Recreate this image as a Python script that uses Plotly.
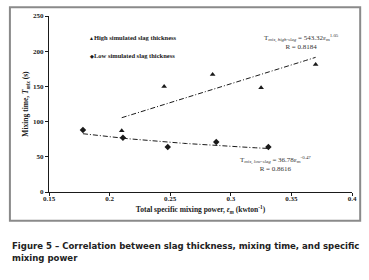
import numpy as np
import plotly.graph_objects as go

# Data
high_x = [0.21, 0.245, 0.285, 0.325, 0.37]
high_y = [87, 150, 167, 148, 181]
low_x = [0.178, 0.211, 0.248, 0.288, 0.331]
low_y = [88, 77, 64, 71, 64]

# Power-law fits printed on the chart: T = a * e^b
high_a, high_b = 543.32, 1.05
low_a, low_b = 36.78, -0.47

x_ticks = [0.15, 0.2, 0.25, 0.3, 0.35, 0.4]
x_tick_labels = ["0.15", "0.2", "0.25", "0.3", "0.35", "0.4"]
y_ticks = [0, 50, 100, 150, 200, 250]

SERIF = "Liberation Serif, Times New Roman, serif"
INK = "#1a1a1a"

fig = go.Figure()

hx = np.linspace(min(high_x), max(high_x), 60)
lx = np.linspace(min(low_x), max(low_x), 60)
fig.add_trace(go.Scatter(x=hx, y=high_a * hx ** high_b, mode="lines",
                         line=dict(color=INK, width=1, dash="5px,2px,1px,2px"),
                         showlegend=False, hoverinfo="skip"))
fig.add_trace(go.Scatter(x=lx, y=low_a * lx ** low_b, mode="lines",
                         line=dict(color=INK, width=1, dash="5px,2px,1px,2px"),
                         showlegend=False, hoverinfo="skip"))
fig.add_trace(go.Scatter(x=high_x, y=high_y, mode="markers", name="High simulated slag thickness",
                         marker=dict(symbol="triangle-up", size=5, color=INK), showlegend=False))
fig.add_trace(go.Scatter(x=low_x, y=low_y, mode="markers", name="Low simulated slag thickness",
                         marker=dict(symbol="diamond", size=5, color=INK), showlegend=False))

annots = [
    dict(x=0.1814, y=219, text="<b><span style='font-size:5px'>▲</span>High simulated slag thickness</b>",
         xanchor="left", yanchor="middle", font=dict(family=SERIF, size=6.5, color=INK)),
    dict(x=0.1814, y=194, text="<b><span style='font-size:5px'>◆</span>Low simulated slag thickness</b>",
         xanchor="left", yanchor="middle", font=dict(family=SERIF, size=6.5, color=INK)),
    dict(x=0.3587, y=213, text="T<sub><i>mix, high-slag</i></sub> = 543.32ε<sub>m</sub><sup>1.05</sup><br>R = 0.8184",
         xanchor="center", yanchor="middle", align="center",
         font=dict(family=SERIF, size=7, color="#333")),
    dict(x=0.3365, y=40, text="T<sub><i>mix, low-slag</i></sub> = 36.78ε<sub>m</sub><sup>-0.47</sup><br>R = 0.8616",
         xanchor="center", yanchor="middle", align="center",
         font=dict(family=SERIF, size=7, color="#333")),
    # caption
    dict(xref="paper", yref="paper", x=-0.129, y=-0.262, xanchor="left", yanchor="top", align="left",
         text="<b>Figure 5 – Correlation between slag thickness, mixing time, and specific<br>mixing power</b>",
         font=dict(family="DejaVu Sans Condensed, Liberation Sans, sans-serif", size=9.5, color="#222")),
]
for a in annots:
    a.setdefault("showarrow", False)
fig.update_layout(annotations=annots)

fig.update_layout(
    width=369, height=280,
    margin=dict(l=49, r=17, t=14, b=88),
    paper_bgcolor="white", plot_bgcolor="white",
    shapes=[dict(type="rect", xref="paper", yref="paper", x0=-0.129, x1=1.027, y0=-0.163, y1=1.05,
                 line=dict(color="#8a8a8a", width=2))],
)
fig.update_xaxes(range=[0.15, 0.4], tickvals=x_ticks, ticktext=x_tick_labels,
                 showgrid=False, zeroline=False, showline=True, linecolor=INK, linewidth=1,
                 ticks="outside", ticklen=3, tickcolor=INK, ticklabelstandoff=-3,
                 tickfont=dict(family=SERIF, size=7, color=INK, weight="bold"),
                 title=dict(text="<b>Total specific mixing power, <i>ε<sub>m</sub></i> (kwton<sup>-1</sup>)</b>",
                            font=dict(family=SERIF, size=7.5, color=INK), standoff=4))
fig.update_yaxes(range=[0, 250], tickvals=y_ticks,
                 showgrid=False, zeroline=False, showline=True, linecolor=INK, linewidth=1,
                 ticks="outside", ticklen=3, tickcolor=INK, ticklabelstandoff=0,
                 tickfont=dict(family=SERIF, size=7, color=INK, weight="bold"),
                 title=dict(text="<b>Mixing time, <i>T<sub>mix</sub></i> (s)</b>",
                            font=dict(family=SERIF, size=7.5, color=INK), standoff=3))

fig.write_html("out.html", config={"displayModeBar": False},
               post_script="document.body.style.margin='0';")
